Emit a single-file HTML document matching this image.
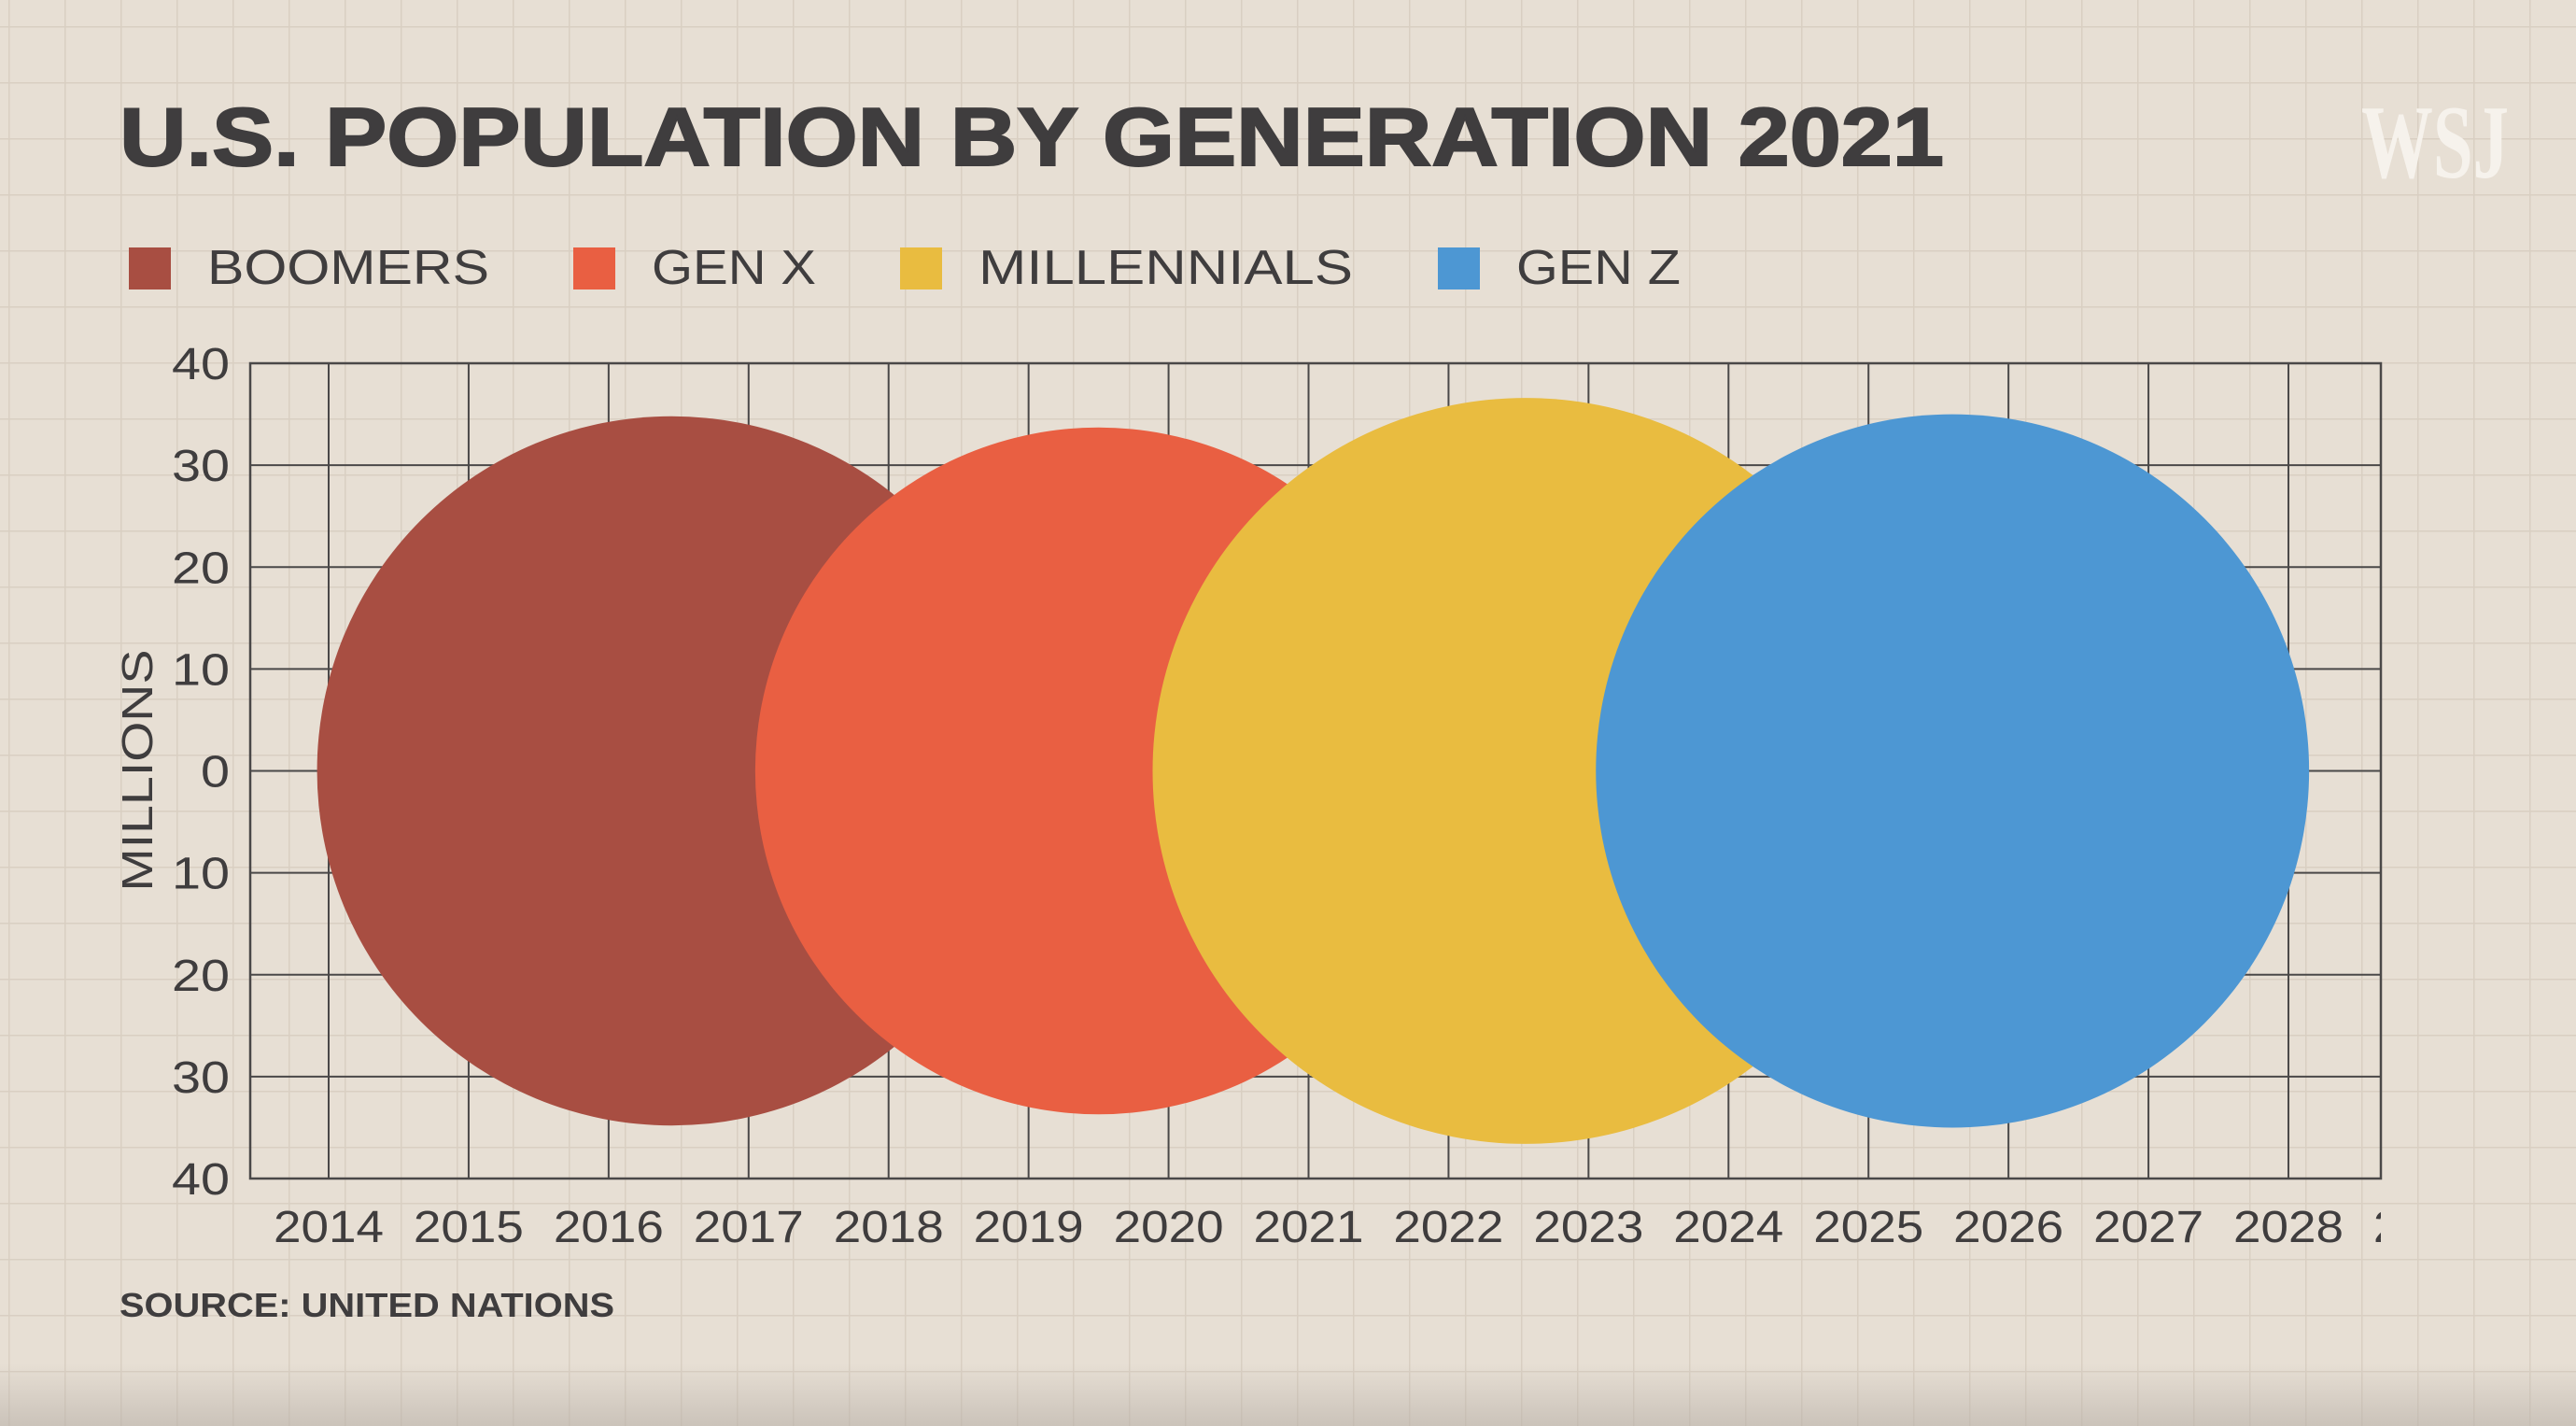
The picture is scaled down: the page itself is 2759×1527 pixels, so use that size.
<!DOCTYPE html>
<html><head><meta charset="utf-8"><style>
html,body{margin:0;padding:0}
body{width:2759px;height:1527px;overflow:hidden;background:#e7dfd4;font-family:"Liberation Sans",sans-serif}
svg{display:block}
</style></head><body>
<svg id="chart" width="2759" height="1527" viewBox="0 0 2759 1527" xmlns="http://www.w3.org/2000/svg">
<defs>
<pattern id="paper" x="9" y="28" width="60" height="60" patternUnits="userSpaceOnUse">
<path d="M0 0H60M0 0V60" stroke="#d9cfc2" stroke-width="3" fill="none"/>
</pattern>
<linearGradient id="vig" x1="0" y1="0" x2="0" y2="1">
<stop offset="0" stop-color="#b8b0a8" stop-opacity="0"/>
<stop offset="1" stop-color="#b8b0a8" stop-opacity="0.6"/>
</linearGradient>
<clipPath id="plotclip"><rect x="268" y="380" width="2282" height="1000"/></clipPath>
</defs>
<rect width="2759" height="1527" fill="#e7dfd4"/>
<rect width="2759" height="1527" fill="url(#paper)"/>
<rect x="0" y="1460" width="2759" height="67" fill="url(#vig)"/>
<text x="128" y="177" font-size="88" font-weight="bold" fill="#3f3d3e" stroke="#3f3d3e" stroke-width="2" textLength="1954" lengthAdjust="spacingAndGlyphs">U.S. POPULATION BY GENERATION 2021</text>
<text x="2529" y="190" font-family="Liberation Serif,serif" font-size="112" font-weight="bold" fill="#f6f2ec" textLength="158" lengthAdjust="spacingAndGlyphs">WSJ</text>
<g id="legend"></g>
<g id="grid"></g>
<g id="bubbles"></g>
<g id="axes"></g>
<text transform="translate(163,825) rotate(-90)" text-anchor="middle" font-size="46" fill="#3f3d3e" textLength="259" lengthAdjust="spacingAndGlyphs">MILLIONS</text>
<text x="128" y="1410" font-size="36" font-weight="bold" fill="#3f3d3e" textLength="530" lengthAdjust="spacingAndGlyphs">SOURCE: UNITED NATIONS</text>
</svg>
<script>
const generations = ["BOOMERS", "GEN X", "MILLENNIALS", "GEN Z"];
const centerYears = [2016.45, 2019.5, 2022.55, 2025.6];
const populations = [34.8, 33.7, 36.6, 35.0];
const colors = ["#a84e42", "#e95f42", "#e9bc40", "#4d97d3"];
const yearTicks = [2014,2015,2016,2017,2018,2019,2020,2021,2022,2023,2024,2025,2026,2027,2028,2029];
const yTicks = [40,30,20,10,0,-10,-20,-30,-40];
const legendX = [138, 614, 964, 1540];
const legendW = [302, 176, 401, 176];

const NS = "http://www.w3.org/2000/svg";
const L = 268, R = 2550, T = 389, B = 1262;
const xS = y => 352 + (y - 2014) * 149.93;
const yS = v => 825.5 - v * (B - T) / 80;
const pxPerUnit = (B - T) / 80;
function mk(tag, attrs, parent, text) {
  const e = document.createElementNS(NS, tag);
  for (const k in attrs) e.setAttribute(k, attrs[k]);
  if (text !== undefined) e.textContent = text;
  parent.appendChild(e);
  return e;
}
const legend = document.getElementById('legend');
generations.forEach((g, i) => {
  const sw = mk('rect', {x: legendX[i], y: 265, width: 45, height: 45, fill: colors[i]}, legend);
  
  
  const t = mk('text', {x: legendX[i] + 84, y: 304, 'font-size': 52, fill: '#3f3d3e', textLength: legendW[i], lengthAdjust: 'spacingAndGlyphs'}, legend, g);
  
  
});
const grid = document.getElementById('grid');
yTicks.forEach(v => {
  const ln = mk('line', {x1: L, x2: R, y1: yS(v), y2: yS(v), stroke: '#4a4848', 'stroke-width': 2}, grid);
  
  
});
yearTicks.forEach(y => {
  if (xS(y) >= R) return;
  const ln = mk('line', {x1: xS(y), x2: xS(y), y1: T, y2: B, stroke: '#4a4848', 'stroke-width': 2}, grid);
  
  
});
const bub = document.getElementById('bubbles');
generations.forEach((g, i) => {
  const c = mk('circle', {cx: xS(centerYears[i]), cy: yS(0), r: populations[i] * pxPerUnit, fill: colors[i]}, bub);
  
  
});
const axes = document.getElementById('axes');
const frame = mk('rect', {x: L, y: T, width: R - L, height: B - T, fill: 'none', stroke: '#4a4848', 'stroke-width': 2.5}, axes);


yTicks.forEach(v => {
  const t = mk('text', {x: 246, y: yS(v) + 17, 'text-anchor': 'end', 'font-size': 48, fill: '#3f3d3e', textLength: 62, lengthAdjust: 'spacingAndGlyphs'}, axes, String(Math.abs(v)));
  if (v === 0) t.setAttribute('textLength', 31);
  
  
});
const xl = mk('g', {'clip-path': 'url(#plotclip)'}, axes);
yearTicks.forEach(y => {
  const t = mk('text', {x: xS(y) - 59, y: 1330, 'font-size': 48, fill: '#3f3d3e', textLength: 118, lengthAdjust: 'spacingAndGlyphs'}, xl, String(y));
  
  
});
</script>
</body></html>
